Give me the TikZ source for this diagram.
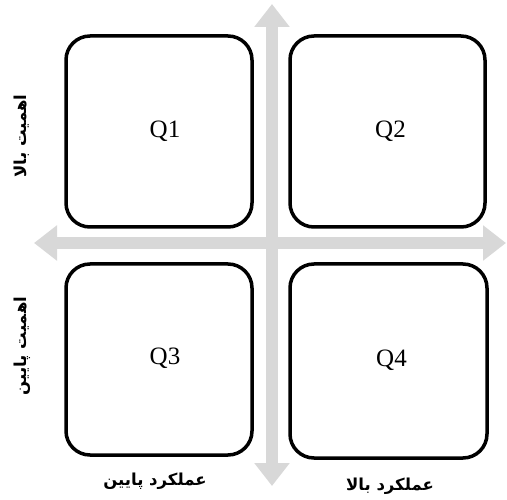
\documentclass[tikz,border=0pt]{standalone}
\usepackage{fontspec}
\setmainfont{Liberation Serif}
\newfontfamily\arabicfont[Script=Arabic]{DejaVu Sans}
\TeXXeTstate=1
\usetikzlibrary{arrows.meta}
\begin{document}
\begin{tikzpicture}[x=1pt,y=-1pt,
  quad/.style={draw=black, line width=3.5pt, rounded corners=24pt, fill=white, inner sep=0pt, font=\fontsize{25}{27}\selectfont},
  axis/.style={draw={rgb,255:red,216;green,216;blue,216}, line width=12pt,
    {Triangle[width=34pt,length=23pt]}-{Triangle[width=34pt,length=23pt]}},
  lab/.style={font=\arabicfont\bfseries\fontsize{16.5}{18}\selectfont, inner sep=0pt}]
\useasboundingbox (0,0) rectangle (507,500);
\coordinate (top) at (272,4);
\coordinate (bot) at (272,486);
\coordinate (lft) at (34,243);
\coordinate (rgt) at (506,243);
\draw[axis] (bot) -- (top);
\draw[axis] (lft) -- (rgt);
\node[quad, minimum width=186pt, minimum height=191pt] (q1) at (159,131.5) {\hspace{12pt}\raisebox{5pt}{Q1}};
\node[quad, minimum width=195pt, minimum height=191pt] (q2) at (387.5,131.5) {\hspace{6pt}\raisebox{5pt}{Q2}};
\node[quad, minimum width=186pt, minimum height=191pt] (q3) at (159,359.5) {\hspace{12pt}\raisebox{6pt}{Q3}};
\node[quad, minimum width=197pt, minimum height=194pt] (q4) at (388.5,361) {\hspace{6pt}\raisebox{6pt}{Q4}};
\node[lab, rotate=90] (hi) at (22,136) {\beginR اهمیت بالا\endR};
\node[lab, rotate=90] (lo) at (22,346) {\beginR اهمیت پایین\endR};
\node[lab] (pl) at (155,481) {\beginR عملکرد پایین\endR};
\node[lab] (ph) at (390,486) {\beginR عملکرد بالا\endR};
\end{tikzpicture}
\end{document}
